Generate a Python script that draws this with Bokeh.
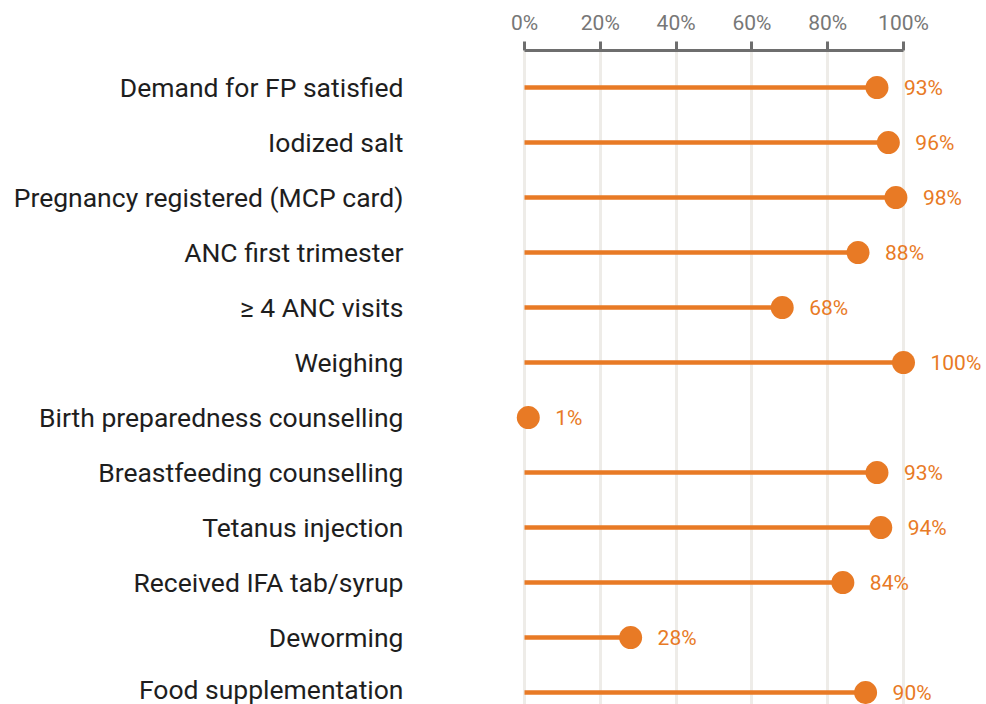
from bokeh.plotting import figure
from bokeh.models import Range1d, FixedTicker, ColumnDataSource, CustomJSTickFormatter
from bokeh.core.properties import value
from bokeh.embed import file_html
from bokeh.resources import INLINE

categories = [
    "Demand for FP satisfied",
    "Iodized salt",
    "Pregnancy registered (MCP card)",
    "ANC first trimester",
    "\u2265 4 ANC visits",
    "Weighing",
    "Birth preparedness counselling",
    "Breastfeeding counselling",
    "Tetanus injection",
    "Received IFA tab/syrup",
    "Deworming",
    "Food supplementation",
]
values = [93, 96, 98, 88, 68, 100, 1, 93, 94, 84, 28, 90]
value_labels = ["93%", "96%", "98%", "88%", "68%", "100%", "1%", "93%", "94%", "84%", "28%", "90%"]
x_ticks = [0, 20, 40, 60, 80, 100]

ORANGE = "#E87A25"
FONT = "Roboto"

idx = list(range(len(categories)))
src = ColumnDataSource(dict(y=idx, v=values, zero=[0] * len(values), lab=value_labels))

p = figure(
    width=986, height=704,
    output_backend="svg", toolbar_location=None,
    x_range=Range1d(-2.64, 121.9),
    y_range=Range1d(11.218, -0.673),
    x_axis_location="above",
    min_border_left=514, min_border_right=0, min_border_top=50, min_border_bottom=0,
)
p.outline_line_color = None
p.background_fill_color = "white"

# x axis (top)
xa = p.xaxis[0]
xa.ticker = FixedTicker(ticks=x_ticks)
xa.formatter = CustomJSTickFormatter(code="return tick + '%';")
xa.bounds = (0, 100)
xa.axis_line_color = "#6E6E6E"
xa.axis_line_width = 3
xa.major_tick_line_color = "#6E6E6E"
xa.major_tick_line_width = 3
xa.major_tick_in = 0
xa.major_tick_out = 9
xa.minor_tick_line_color = None
xa.major_label_standoff = 7
xa.major_label_text_font = FONT
xa.major_label_text_font_size = "21px"
xa.major_label_text_color = "#777777"

# y axis (category labels)
ya = p.yaxis[0]
ya.ticker = FixedTicker(ticks=idx)
ya.major_label_overrides = {i: c for i, c in enumerate(categories)}
ya.axis_line_color = None
ya.major_tick_line_color = None
ya.minor_tick_line_color = None
ya.major_tick_in = 0
ya.major_tick_out = 0
ya.major_label_standoff = 111
ya.major_label_text_font = FONT
ya.major_label_text_font_size = "26.5px"
ya.major_label_text_color = "#1E1E1E"

p.xgrid.ticker = FixedTicker(ticks=x_ticks)
p.xgrid.grid_line_color = "#EEECE8"
p.xgrid.grid_line_width = 3
p.ygrid.grid_line_color = None

p.segment(x0="zero", y0="y", x1="v", y1="y", source=src, line_color=ORANGE, line_width=4.5)
p.scatter(x="v", y="y", source=src, size=23, fill_color=ORANGE, line_color=None)
p.text(x="v", y="y", text="lab", source=src, x_offset=27, text_align="left",
       text_baseline="middle", text_color=ORANGE, text_font=value(FONT),
       text_font_size="21px")

open("out.html", "w").write(file_html(p, INLINE))
